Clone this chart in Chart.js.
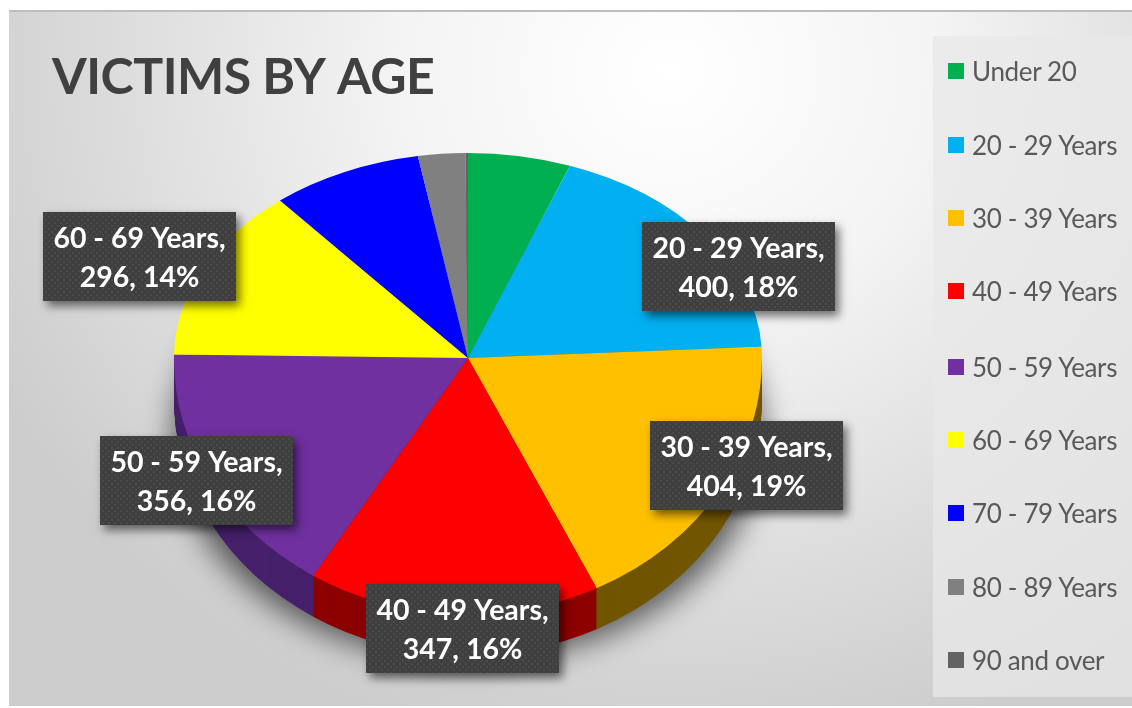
<!DOCTYPE html>
<html>
<head>
<meta charset="utf-8">
<title>Victims by age</title>
<script src="https://cdn.jsdelivr.net/npm/chart.js@4"></script>
<style>
  html, body { margin: 0; padding: 0; background: #fff; overflow: hidden; }
  #panel {
    position: absolute; left: 9px; top: 10px; width: 1123px; height: 696px;
    border-top: 2px solid #bdbdbd; box-sizing: border-box;
    background: radial-gradient(ellipse 760px 700px at 660px 60px, #ffffff 0%, #f4f4f4 35%, #dedede 70%, #cccccc 100%);
  }
  #legendPanel {
    position: absolute; left: 933px; top: 36px; width: 199px; height: 661px;
    background: rgba(232, 232, 232, 0.75);
  }
  #myChart { position: absolute; left: 0; top: 0; }
  .legendItem {
    position: absolute; left: 972px; height: 30px; line-height: 30px;
    font: 26px/30px Lato; letter-spacing: -0.35px; color: #595959; white-space: nowrap;
  }
  .legendBox { position: absolute; left: 948px; width: 16px; height: 16px; }
</style>
</head>
<body>
<div id="panel"></div>
<div id="legendPanel"></div>
<canvas id="myChart" width="1132" height="708"></canvas>
<div id="legend"></div>
<script>
var categories = ["Under 20", "20 - 29 Years", "30 - 39 Years", "40 - 49 Years", "50 - 59 Years", "60 - 69 Years", "70 - 79 Years", "80 - 89 Years", "90 and over"];
var victims = [122, 400, 404, 347, 356, 296, 180, 56, 3];
var sliceColors = ["#00B050", "#00B0F0", "#FFC000", "#FF0000", "#7030A0", "#FFFF00", "#0000FF", "#808080", "#636363"];
var wallColors = ["#006a30", "#006a90", "#715500", "#8c0000", "#46206b", "#808000", "#000090", "#4c4c4c", "#3c3c3c"];

// which slices get a label box, and the box's top left corner
var labelSlices = [1, 2, 3, 4, 5];
var labelLeft = [642, 650, 366, 100, 43];
var labelTop = [222, 421, 584, 436, 212];

// legend rows, measured from the middle of each row
var legendRows = [71, 145, 218, 291, 367, 440, 513, 587, 660];

// the picture is a tilted pie: the near half is taller than the far half
var pieX = 468, pieY = 358, pieRx = 294, pieRyFar = 205, pieRyNear = 256, pieDepth = 41;

function drawHalf(chart, arcs, top, bottom, ry, dy, colors) {
  var ctx = chart.ctx;
  ctx.save();
  ctx.beginPath();
  ctx.rect(0, top, 1132, bottom - top);
  ctx.clip();
  arcs.forEach(function (arc, i) {
    var r = arc.outerRadius;
    var saved = arc.options;
    ctx.save();
    ctx.translate(pieX, pieY + dy);
    ctx.scale(pieRx / r, ry / r);
    ctx.translate(-arc.x, -arc.y);
    arc.options = Object.assign({}, saved, { backgroundColor: colors[i] });
    arc.draw(ctx);
    arc.options = saved;
    ctx.restore();
  });
  ctx.restore();
}

var tiltedPie = {
  id: "tiltedPie",
  beforeDraw: function (chart) {
    chart.ctx.letterSpacing = "-0.5px";
  },
  beforeDatasetsDraw: function (chart) {
    var ctx = chart.ctx;
    var arcs = chart.getDatasetMeta(0).data;
    ctx.letterSpacing = "0px";

    // soft shadow under the pie, the shape itself is off canvas
    ctx.save();
    ctx.shadowColor = "rgba(0,0,0,0.6)";
    ctx.shadowBlur = 30;
    ctx.shadowOffsetX = 3000;
    ctx.shadowOffsetY = 6;
    ctx.fillStyle = "#000";
    ctx.beginPath();
    ctx.ellipse(pieX - 3000, 430, pieRx, 225, 0, 0, Math.PI * 2);
    ctx.fill();
    ctx.restore();

    // side wall
    for (var d = pieDepth; d > 0; d--) {
      drawHalf(chart, arcs, pieY, 708, pieRyNear, d, wallColors);
    }

    // top face
    drawHalf(chart, arcs, 0, pieY + 1, pieRyFar, 0, sliceColors);
    drawHalf(chart, arcs, pieY, 708, pieRyNear, 0, sliceColors);
    return false;
  },
  afterDraw: function (chart) {
    var ctx = chart.ctx;
    var total = victims.reduce(function (a, b) { return a + b; }, 0);

    // dotted texture of the label boxes
    var tile = document.createElement("canvas");
    tile.width = 6;
    tile.height = 6;
    var t = tile.getContext("2d");
    t.fillStyle = "#3f3f3f";
    t.fillRect(0, 0, 6, 6);
    t.fillStyle = "#4a4a4a";
    t.fillRect(0, 0, 2, 2);
    t.fillRect(3, 3, 2, 2);
    var texture = ctx.createPattern(tile, "repeat");

    labelSlices.forEach(function (s, i) {
      var x = labelLeft[i], y = labelTop[i], w = 193, h = 89;
      var pct = Math.round(victims[s] / total * 100);
      ctx.save();
      ctx.shadowColor = "rgba(0,0,0,0.55)";
      ctx.shadowBlur = 9;
      ctx.shadowOffsetX = 4;
      ctx.shadowOffsetY = 5;
      ctx.fillStyle = "#3f3f3f";
      ctx.fillRect(x, y, w, h);
      ctx.restore();
      ctx.fillStyle = texture;
      ctx.fillRect(x, y, w, h);
      ctx.fillStyle = "#ffffff";
      ctx.font = "bold 28.5px Lato";
      ctx.textAlign = "center";
      ctx.textBaseline = "middle";
      ctx.fillText(categories[s] + ",", x + w / 2, y + 27);
      ctx.fillText(victims[s] + ", " + pct + "%", x + w / 2, y + 66);
    });
  }
};

var ctx = document.getElementById("myChart").getContext("2d");
var chart = new Chart(ctx, {
  type: "pie",
  data: {
    labels: categories,
    datasets: [
      {
        data: victims,
        backgroundColor: sliceColors,
        borderWidth: 0,
      },
    ],
  },
  options: {
    responsive: false,
    animation: false,
    events: [],
    layout: {
      padding: { left: 52, right: 13, top: 48, bottom: 12 },
    },
    plugins: {
      title: {
        display: true,
        text: "VICTIMS BY AGE",
        align: "start",
        color: "#404040",
        font: { family: "Lato", size: 50, weight: "bold" },
        padding: { top: 0, bottom: 10 },
      },
      legend: { display: false },
      tooltip: { enabled: false },
    },
  },
  plugins: [tiltedPie],
});

// legend built from the same lists
var legendDiv = document.getElementById("legend");
categories.forEach(function (name, i) {
  var box = document.createElement("div");
  box.className = "legendBox";
  box.style.top = legendRows[i] - 8 + "px";
  box.style.background = sliceColors[i];
  legendDiv.appendChild(box);
  var item = document.createElement("div");
  item.className = "legendItem";
  item.style.top = legendRows[i] - 15 + "px";
  item.textContent = name;
  legendDiv.appendChild(item);
});
</script>
</body>
</html>
